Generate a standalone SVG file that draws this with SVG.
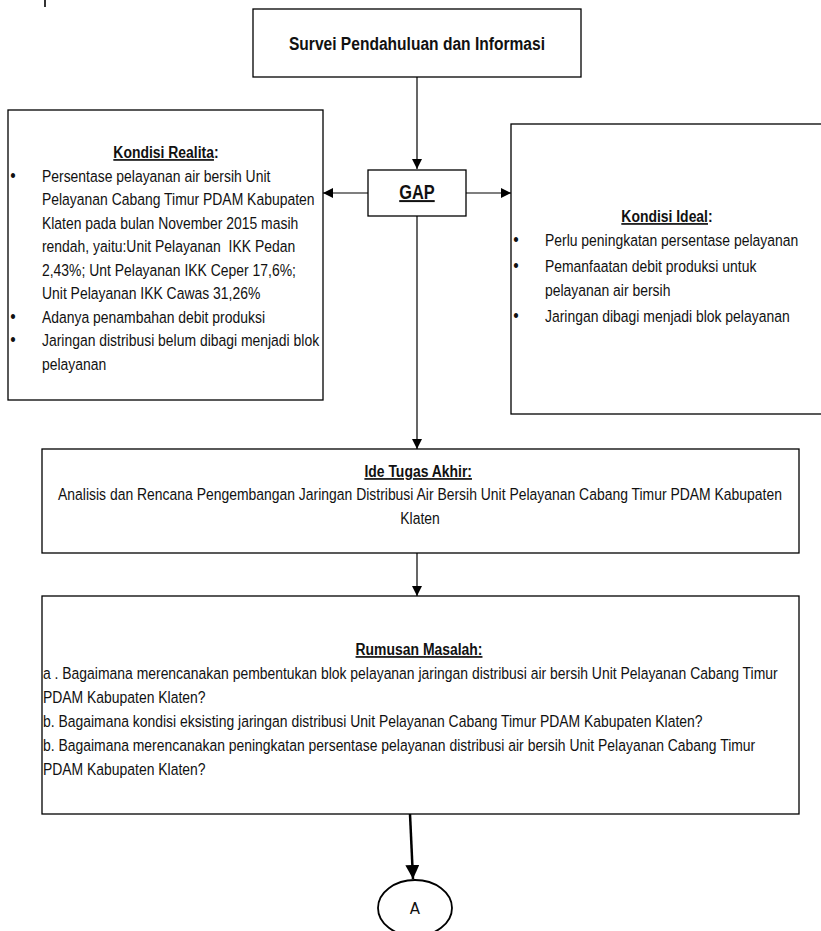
<svg xmlns="http://www.w3.org/2000/svg" width="821" height="931" viewBox="0 0 821 931">
<style>
.box{fill:#fff;stroke:#000;stroke-width:1.3}
.t{font-family:"Liberation Sans",Arial,sans-serif;font-size:17px;fill:#111}
.b{font-weight:bold}
.u{text-decoration:underline}
.c{text-anchor:middle}
.bl{font-size:19px}
.ln{stroke:#000;stroke-width:1.2;fill:none}
</style>
<defs>
<marker id="ah" viewBox="0 0 10 10" refX="10" refY="5" markerWidth="10" markerHeight="10" markerUnits="userSpaceOnUse" orient="auto">
<path d="M0,0 L10,5 L0,10 z" fill="#000"/>
</marker>
<marker id="ahb" viewBox="0 0 10 10" refX="10" refY="5" markerWidth="14" markerHeight="14" markerUnits="userSpaceOnUse" orient="auto">
<path d="M0,0 L10,5 L0,10 z" fill="#000"/>
</marker>
</defs>
<rect width="821" height="931" fill="#fff"/>
<line x1="45" y1="0" x2="45" y2="7" stroke="#000" stroke-width="1.6"/>
<g id="connectors">
<line class="ln" x1="417" y1="77" x2="417" y2="169" marker-end="url(#ah)"/>
<line class="ln" x1="368" y1="193" x2="323" y2="193" marker-end="url(#ah)"/>
<line class="ln" x1="466" y1="193" x2="511" y2="193" marker-end="url(#ah)"/>
<line class="ln" x1="417" y1="216" x2="417" y2="449" marker-end="url(#ah)"/>
<line class="ln" x1="417" y1="553" x2="417" y2="596" marker-end="url(#ah)"/>
<line x1="410" y1="814" x2="413" y2="879" stroke="#000" stroke-width="2.5" marker-end="url(#ahb)"/>
</g>
<g id="survei">
<rect class="box" x="253" y="9" width="328" height="68"/>
<g transform="scale(0.82 1)"><text class="t b c" x="508.5" y="50" style="font-size:19px">Survei Pendahuluan dan Informasi</text></g>
</g>
<g id="realita">
<rect class="box" x="8" y="110" width="315" height="290"/>
<g class="t" transform="scale(0.82 1)">
<text class="b c" x="202.4" y="158"><tspan class="u">Kondisi Realita</tspan>:</text>
<text class="bl" x="12.5" y="182">•</text>
<text x="51.2" y="182">Persentase pelayanan air bersih Unit</text>
<text x="51.2" y="205">Pelayanan Cabang Timur PDAM Kabupaten</text>
<text x="51.2" y="229">Klaten pada bulan November 2015 masih</text>
<text x="51.2" y="252">rendah, yaitu:Unit Pelayanan &#160;IKK Pedan</text>
<text x="51.2" y="276">2,43%; Unt Pelayanan IKK Ceper 17,6%;</text>
<text x="51.2" y="299">Unit Pelayanan IKK Cawas 31,26%</text>
<text class="bl" x="12.5" y="323">•</text>
<text x="51.2" y="323">Adanya penambahan debit produksi</text>
<text class="bl" x="12.5" y="346">•</text>
<text x="51.2" y="346">Jaringan distribusi belum dibagi menjadi blok</text>
<text x="51.2" y="370">pelayanan</text>
</g>
</g>
<g id="gap">
<rect class="box" x="368" y="170" width="98" height="46"/>
<g transform="scale(0.82 1)"><text class="t b c u" x="508.5" y="199" style="font-size:20px">GAP</text></g>
</g>
<g id="ideal">
<rect class="box" x="511" y="124" width="320" height="290"/>
<g class="t" transform="scale(0.82 1)">
<text class="b c" x="813.4" y="222"><tspan class="u">Kondisi Ideal</tspan>:</text>
<text class="bl" x="626" y="246">•</text>
<text x="664.6" y="246">Perlu peningkatan persentase pelayanan</text>
<text class="bl" x="626" y="272">•</text>
<text x="664.6" y="272">Pemanfaatan debit produksi untuk</text>
<text x="664.6" y="296">pelayanan air bersih</text>
<text class="bl" x="626" y="322">•</text>
<text x="664.6" y="322">Jaringan dibagi menjadi blok pelayanan</text>
</g>
</g>
<g id="ide">
<rect class="box" x="42" y="449" width="757" height="104"/>
<g class="t" transform="scale(0.82 1)">
<text class="b c u" x="510" y="477">Ide Tugas Akhir:</text>
<text class="c" x="512.2" y="500">Analisis dan Rencana Pengembangan Jaringan Distribusi Air Bersih Unit Pelayanan Cabang Timur PDAM Kabupaten</text>
<text class="c" x="512.2" y="524">Klaten</text>
</g>
</g>
<g id="rumusan">
<rect class="box" x="42" y="596" width="757" height="218"/>
<g class="t" transform="scale(0.82 1)">
<text class="b c u" x="511" y="655">Rumusan Masalah:</text>
<text x="52.4" y="679">a . Bagaimana merencanakan pembentukan blok pelayanan jaringan distribusi air bersih Unit Pelayanan Cabang Timur</text>
<text x="52.4" y="703">PDAM Kabupaten Klaten?</text>
<text x="52.4" y="727">b. Bagaimana kondisi eksisting jaringan distribusi Unit Pelayanan Cabang Timur PDAM Kabupaten Klaten?</text>
<text x="52.4" y="751">b. Bagaimana merencanakan peningkatan persentase pelayanan distribusi air bersih Unit Pelayanan Cabang Timur</text>
<text x="52.4" y="775">PDAM Kabupaten Klaten?</text>
</g>
</g>
<g id="a">
<ellipse cx="415" cy="908" rx="37" ry="28" fill="#fff" stroke="#000" stroke-width="1.8"/>
<text x="415" y="914" text-anchor="middle" style="font-family:'DejaVu Sans',sans-serif;font-size:15px;fill:#111">A</text>
</g>
</svg>
